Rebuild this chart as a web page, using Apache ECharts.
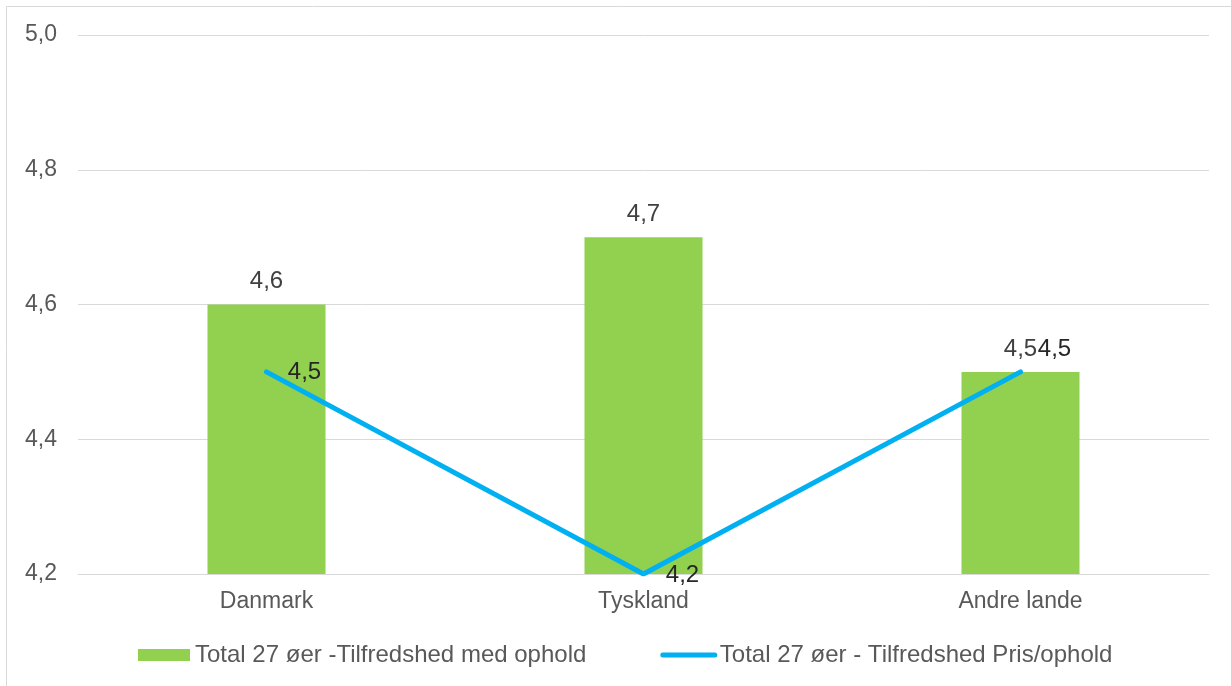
<!DOCTYPE html>
<html><head><meta charset="utf-8">
<script src="https://cdn.jsdelivr.net/npm/echarts@6/dist/echarts.min.js"></script>
<style>html,body{margin:0;padding:0;background:#fff}#c{width:1231px;height:686px}</style>
</head><body><div id="c"></div>
<script>
const categories = ['Danmark', 'Tyskland', 'Andre lande'];
const barValues = [4.6, 4.7, 4.5];
const lineValues = [4.5, 4.2, 4.5];
const barName = 'Total 27 øer -Tilfredshed med ophold';
const lineName = 'Total 27 øer - Tilfredshed Pris/ophold';
const lineLabelOffsets = [[38, 0], [39, 1], [34, -23]];

const fmt = v => Number(v).toFixed(1).replace('.', ',');
const chart = echarts.init(document.getElementById('c'), null, {renderer: 'canvas'});
const FONT = 'Liberation Sans, Arial, sans-serif';
chart.setOption({
  animation: false,
  textStyle: {fontFamily: FONT},
  graphic: [
    {type: 'line', shape: {x1: 6.5, y1: 6.5, x2: 1231, y2: 6.5}, style: {stroke: '#d9d9d9', lineWidth: 1}, silent: true},
    {type: 'line', shape: {x1: 6.5, y1: 6.5, x2: 6.5, y2: 686}, style: {stroke: '#d9d9d9', lineWidth: 1}, silent: true}
  ],
  grid: {left: 78, right: 22, top: 35, bottom: 112, containLabel: false},
  legend: {
    left: 133, top: 638, itemWidth: 52, itemHeight: 12, itemGap: 74,
    textStyle: {fontSize: 24, color: '#595959', fontFamily: FONT},
    data: [
      {name: barName, icon: 'rect'},
      {name: lineName, itemStyle: {opacity: 0}, lineStyle: {width: 5, cap: 'round', color: '#00B0F0'}}
    ]
  },
  xAxis: {
    type: 'category', data: categories,
    axisLine: {lineStyle: {color: '#d9d9d9', width: 1}},
    axisTick: {show: false},
    axisLabel: {fontSize: 23, color: '#595959', margin: 16, fontFamily: FONT}
  },
  yAxis: {
    type: 'value', min: 4.2, max: 5.0, interval: 0.2,
    axisLine: {show: false}, axisTick: {show: false},
    splitLine: {lineStyle: {color: '#d9d9d9', width: 1}},
    axisLabel: {fontSize: 23, color: '#595959', margin: 21, formatter: fmt, fontFamily: FONT}
  },
  series: [
    {
      name: barName, type: 'bar', data: barValues, barWidth: 118,
      itemStyle: {color: '#92D050'},
      label: {show: true, position: 'top', distance: 11, fontSize: 24, color: '#404040', formatter: p => fmt(p.value), fontFamily: FONT}
    },
    {
      name: lineName, type: 'line', symbol: 'circle', symbolSize: 0,
      lineStyle: {color: '#00B0F0', width: 5, cap: 'round', join: 'round'},
      itemStyle: {color: '#00B0F0'},
      data: lineValues.map((v, i) => ({
        value: v,
        label: {show: true, position: 'inside', offset: lineLabelOffsets[i], fontSize: 24, color: '#262626', formatter: p => fmt(p.value), fontFamily: FONT}
      }))
    }
  ]
});
</script></body></html>
